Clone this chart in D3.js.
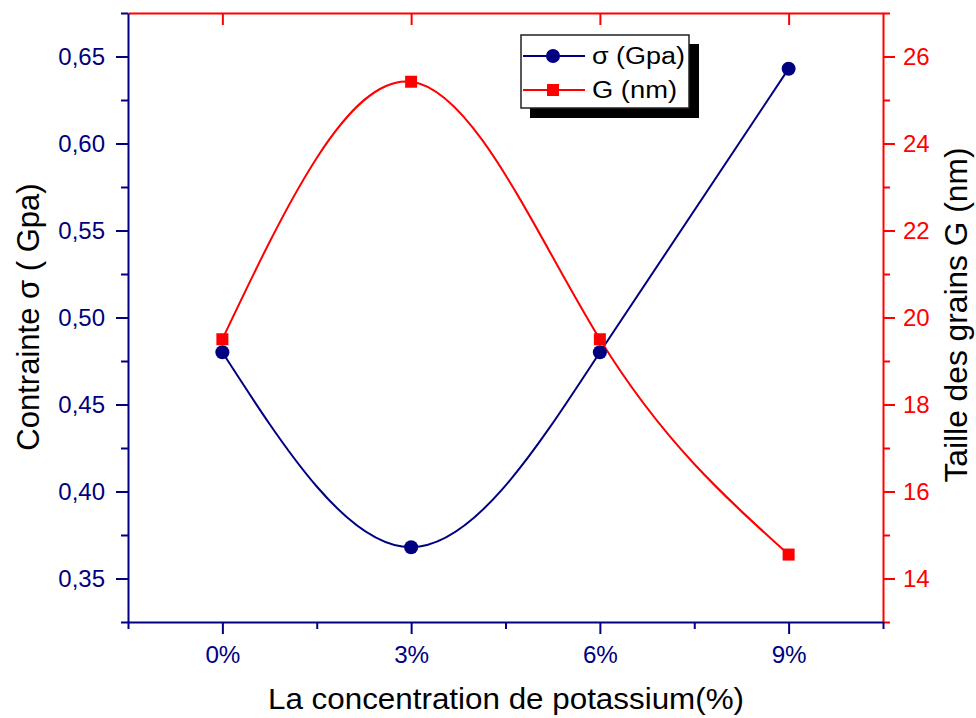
<!DOCTYPE html>
<html>
<head>
<meta charset="utf-8">
<script src="https://cdn.jsdelivr.net/npm/d3@7"></script>
<style>
  html, body { margin: 0; padding: 0; background: #fff; }
  svg { display: block; font-family: "Liberation Sans", Arial, sans-serif; }
</style>
</head>
<body>
<svg id="chart" width="976" height="718"></svg>
<script>
// ---- data ----
const categories = [0, 3, 6, 9];                 // % potassium
const categoryLabels = ["0%", "3%", "6%", "9%"];
const sigmaValues = [0.48, 0.368, 0.48, 0.643];  // Contrainte σ (GPa)
const grainValues = [19.5, 25.42, 19.5, 14.55];  // Taille des grains G (nm)
const leftTicks = [0.35, 0.40, 0.45, 0.50, 0.55, 0.60, 0.65];
const leftMinor = [0.325, 0.375, 0.425, 0.475, 0.525, 0.575, 0.625, 0.675];
const rightTicks = [14, 16, 18, 20, 22, 24, 26];
const rightMinor = [13, 15, 17, 19, 21, 23, 25, 27];
const xMinor = [-1.5, 1.5, 4.5, 7.5, 10.5];

const BLUE = "#000080", RED = "#ff0000";
const svg = d3.select("#chart");
const L = 128, R = 883, T = 13, B = 622;

const x = d3.scaleLinear().domain([-1.5, 10.5]).range([L, R]);
const yL = d3.scaleLinear().domain([0.325, 0.675]).range([B, T]);
const yR = d3.scaleLinear().domain([13, 27]).range([B, T]);

const fmtComma = d => d3.format(".2f")(d).replace(".", ",");

function styleAxis(g, color) {
  g.selectAll("path.domain").attr("stroke", color).attr("stroke-width", 2);
  g.selectAll(".tick line").attr("stroke", color).attr("stroke-width", 2);
  g.selectAll(".tick text").attr("fill", color).style("font-size", "24px")
    .style("font-family", '"Liberation Sans", Arial, sans-serif');
}

function minor(axisGen, vals, tr) {
  const g = svg.append("g").attr("transform", tr)
    .call(axisGen.tickValues(vals).tickSize(7).tickFormat("").tickSizeOuter(0));
  g.select("path.domain").remove();
  return g;
}

// top axis (red, ticks inward)
const gTop = svg.append("g").attr("transform", `translate(0,${T})`)
  .call(d3.axisBottom(x).tickValues(categories).tickSize(12).tickFormat("").tickSizeOuter(0));
styleAxis(gTop, RED);

// right axis
const gRm = minor(d3.axisRight(yR), rightMinor, `translate(${R},0)`);
styleAxis(gRm, RED);
const gR = svg.append("g").attr("transform", `translate(${R},0)`)
  .call(d3.axisRight(yR).tickValues(rightTicks).tickSize(12).tickPadding(8).tickSizeOuter(0).tickFormat(d3.format("d")));
styleAxis(gR, RED);

// left axis
const gLm = minor(d3.axisLeft(yL), leftMinor, `translate(${L},0)`);
styleAxis(gLm, BLUE);
const gL = svg.append("g").attr("transform", `translate(${L},0)`)
  .call(d3.axisLeft(yL).tickValues(leftTicks).tickSize(12).tickPadding(11).tickSizeOuter(0).tickFormat(fmtComma));
styleAxis(gL, BLUE);

// bottom axis
const gBm = minor(d3.axisBottom(x), xMinor, `translate(0,${B})`);
styleAxis(gBm, BLUE);
const gB = svg.append("g").attr("transform", `translate(0,${B})`)
  .call(d3.axisBottom(x).tickValues(categories).tickSize(12).tickPadding(12).tickSizeOuter(0)
    .tickFormat((d, i) => categoryLabels[i]));
styleAxis(gB, BLUE);
gB.selectAll(".tick text").attr("textLength", 35).attr("lengthAdjust", "spacingAndGlyphs");

// data lines
const lineS = d3.line().x((d, i) => x(categories[i])).y(d => yL(d)).curve(d3.curveNatural);
const lineG = d3.line().x((d, i) => x(categories[i])).y(d => yR(d)).curve(d3.curveNatural);

svg.append("path").datum(sigmaValues).attr("d", lineS)
  .attr("fill", "none").attr("stroke", BLUE).attr("stroke-width", 2);
svg.append("path").datum(grainValues).attr("d", lineG)
  .attr("fill", "none").attr("stroke", RED).attr("stroke-width", 2);

svg.append("g").selectAll("circle").data(sigmaValues).join("circle")
  .attr("cx", (d, i) => x(categories[i])).attr("cy", d => yL(d)).attr("r", 7).attr("fill", BLUE);
svg.append("g").selectAll("rect").data(grainValues).join("rect")
  .attr("x", (d, i) => x(categories[i]) - 6).attr("y", d => yR(d) - 6)
  .attr("width", 12).attr("height", 12).attr("fill", RED);

// axis titles
svg.append("text").attr("x", 506).attr("y", 709).attr("text-anchor", "middle")
  .style("font-size", "30px").attr("fill", "#000")
  .attr("textLength", 476).attr("lengthAdjust", "spacingAndGlyphs")
  .text("La concentration de potassium(%)");
svg.append("text").attr("transform", "translate(39,317) rotate(-90)").attr("text-anchor", "middle")
  .style("font-size", "31px").attr("fill", "#000").text("Contrainte σ ( Gpa)");
svg.append("text").attr("transform", "translate(967,315) rotate(-90)").attr("text-anchor", "middle")
  .style("font-size", "31px").attr("fill", "#000")
  .attr("textLength", 335).attr("lengthAdjust", "spacingAndGlyphs")
  .text("Taille des grains G (nm)");

// legend
const lg = svg.append("g");
lg.append("rect").attr("x", 530).attr("y", 44).attr("width", 169).attr("height", 74).attr("fill", "#000");
lg.append("rect").attr("x", 521).attr("y", 35).attr("width", 168).attr("height", 73)
  .attr("fill", "#fff").attr("stroke", "#222").attr("stroke-width", 1.5);
const legendItems = [
  { label: "σ (Gpa)", color: BLUE, shape: "circle", y: 56, w: 93 },
  { label: "G (nm)", color: RED, shape: "square", y: 90, w: 85 }
];
legendItems.forEach(it => {
  lg.append("line").attr("x1", 523).attr("x2", 585).attr("y1", it.y).attr("y2", it.y)
    .attr("stroke", it.color).attr("stroke-width", 2);
  if (it.shape === "circle") {
    lg.append("circle").attr("cx", 553).attr("cy", it.y).attr("r", 7).attr("fill", it.color);
  } else {
    lg.append("rect").attr("x", 547).attr("y", it.y - 6).attr("width", 12).attr("height", 12).attr("fill", it.color);
  }
  lg.append("text").attr("x", 592).attr("y", it.y + 8).style("font-size", "23px").attr("fill", "#000")
    .attr("textLength", it.w).attr("lengthAdjust", "spacingAndGlyphs").text(it.label);
});
</script>
</body>
</html>
